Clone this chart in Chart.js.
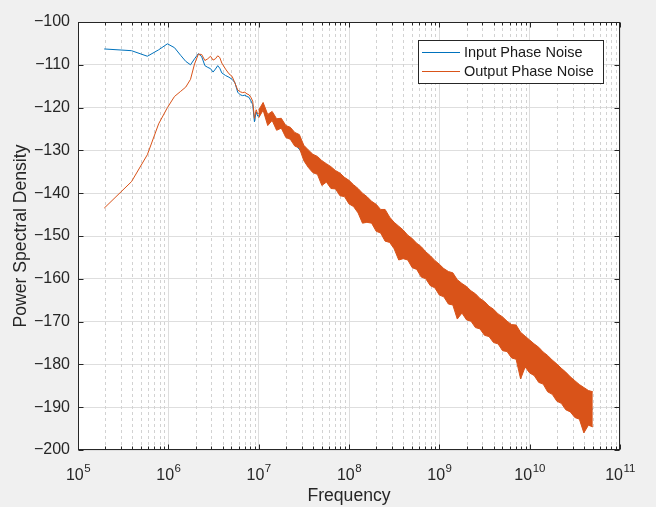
<!DOCTYPE html>
<html><head><meta charset="utf-8">
<script src="https://cdn.jsdelivr.net/npm/chart.js@4.4.0/dist/chart.umd.min.js"></script>
<style>html,body{margin:0;padding:0;background:#f0f0f0;}canvas{display:block}</style>
</head><body>
<canvas id="c" width="656" height="507"></canvas>
<script>
// ---- data ----
const seriesLabels = ['Input Phase Noise', 'Output Phase Noise'];

const inputFreq = [1.95e5,3.91e5,5.86e5,7.81e5,9.77e5,1.17e6,1.37e6,1.56e6,1.76e6,1.95e6,2.15e6,2.34e6,2.54e6,2.73e6,2.93e6,3.13e6,3.32e6,3.52e6,3.71e6,3.91e6,4.30e6,4.69e6,5.08e6,5.47e6,5.86e6,6.25e6,6.64e6,7.03e6,7.42e6,7.81e6,8.20e6,8.59e6,8.98e6,9.38e6,9.77e6,1.00e7,1.12e7,1.26e7,1.41e7,1.58e7,1.78e7,2.00e7,3.16e7,1.00e8,1.00e9,1.00e10,5.00e10];
const inputPsd = [-106.3,-106.7,-108.0,-106.5,-105.1,-106.0,-107.8,-109.2,-110.0,-108.6,-107.4,-108.1,-110.2,-110.6,-110.9,-111.7,-111.0,-110.2,-110.8,-111.9,-112.5,-112.9,-113.4,-114.2,-116.4,-117.0,-117.2,-117.1,-117.4,-117.6,-118.4,-119.3,-123.3,-121.0,-122.0,-122.0,-120.0,-123.5,-122.2,-124.6,-124.0,-126.0,-131.0,-140.0,-160.0,-178.0,-190.5];

const outputFreq = [1.95e5,3.91e5,5.86e5,7.81e5,9.77e5,1.17e6,1.37e6,1.56e6,1.76e6,1.95e6,2.15e6,2.34e6,2.54e6,2.73e6,2.93e6,3.13e6,3.32e6,3.52e6,3.71e6,3.91e6,4.30e6,4.69e6,5.08e6,5.47e6,5.86e6,6.25e6,6.64e6,7.03e6,7.42e6,7.81e6,8.20e6,8.59e6,8.98e6,9.38e6,9.77e6,1.00e7];
const outputPsd = [-143.5,-137.3,-131.0,-123.8,-120.0,-117.4,-116.2,-115.2,-113.4,-109.8,-107.5,-107.6,-109.0,-108.6,-108.0,-108.9,-108.6,-107.9,-108.3,-109.6,-111.0,-112.1,-112.7,-114.3,-115.9,-116.3,-116.5,-116.4,-116.8,-117.0,-117.6,-118.5,-122.5,-120.5,-121.5,-121.4];

// noisy high-frequency part of the output: upper and lower edge of the band
const bandFreq = [
 1.00e7,1.12e7,1.26e7,1.41e7,1.58e7,1.78e7,2.00e7,2.24e7,2.51e7,2.82e7,3.16e7,3.55e7,3.98e7,4.47e7,5.01e7,5.62e7,6.31e7,7.08e7,7.94e7,8.91e7,
 1.00e8,1.12e8,1.26e8,1.41e8,1.58e8,1.78e8,2.00e8,2.24e8,2.51e8,2.82e8,3.16e8,3.55e8,3.98e8,4.47e8,5.01e8,5.62e8,6.31e8,7.08e8,7.94e8,8.91e8,
 1.00e9,1.12e9,1.26e9,1.41e9,1.58e9,1.78e9,2.00e9,2.24e9,2.51e9,2.82e9,3.16e9,3.55e9,3.98e9,4.47e9,5.01e9,5.62e9,6.31e9,7.08e9,7.94e9,8.91e9,
 1.00e10,1.12e10,1.26e10,1.41e10,1.58e10,1.78e10,2.00e10,2.24e10,2.51e10,2.82e10,3.16e10,3.55e10,3.98e10,4.47e10,5.00e10];
const bandUpper = [
 -120.6,-118.8,-121.6,-120.9,-122.6,-122.5,-124.2,-124.6,-125.8,-126.3,-128.8,-129.9,-130.9,-131.4,-132.4,-133.1,-133.8,-134.7,-135.3,-136.3,
 -137.0,-138.0,-138.9,-140.0,-140.8,-141.9,-142.6,-143.8,-143.8,-145.6,-146.8,-147.7,-148.6,-149.8,-150.6,-151.7,-152.5,-153.7,-154.6,-155.7,
 -156.6,-157.6,-158.3,-158.6,-160.2,-161.1,-161.8,-162.8,-163.5,-164.6,-165.3,-166.4,-167.1,-168.2,-168.9,-169.9,-170.7,-170.8,-172.5,-173.4,
 -174.3,-175.2,-176.0,-177.1,-177.9,-179.0,-179.9,-180.9,-181.8,-182.9,-183.8,-184.7,-185.4,-186.1,-186.4];
const bandLower = [
 -122.4,-120.6,-124.2,-123.0,-125.3,-124.8,-127.0,-127.4,-129.0,-129.4,-132.4,-134.0,-135.2,-135.6,-138.2,-137.4,-138.9,-139.0,-140.6,-140.8,
 -142.5,-143.1,-144.6,-147.0,-146.8,-147.0,-148.9,-149.3,-151.2,-151.5,-153.0,-155.6,-155.3,-155.6,-157.4,-157.8,-159.6,-160.0,-161.6,-162.1,
 -163.8,-164.2,-165.9,-166.1,-169.4,-168.0,-169.6,-169.9,-171.4,-171.7,-173.2,-173.5,-174.9,-175.2,-176.8,-177.0,-178.5,-178.8,-183.4,-180.6,
 -182.0,-182.6,-184.2,-184.6,-186.4,-187.0,-188.6,-189.1,-190.6,-191.1,-192.4,-192.8,-196.0,-194.2,-194.6];

const xMajorTicks = [1e5,1e6,1e7,1e8,1e9,1e10,1e11];
const yMin = -200, yMax = -100, yStep = 10;

// ---- styling ----
const BLUE = '#0072BD', ORANGE = '#D95319', AXIS = '#262626';
const FONT = "'Liberation Sans', Arial, Helvetica, sans-serif";
Chart.defaults.font.family = FONT;
Chart.defaults.color = AXIS;

const pts = (xs, ys) => xs.map((x, i) => ({x, y: ys[i]}));
const minorTicks = [];
for (let i = 0; i < xMajorTicks.length - 1; i++) for (let m = 2; m <= 9; m++) minorTicks.push(m * xMajorTicks[i]);

const matlabAxes = {
  id: 'matlabAxes',
  beforeDraw(chart) {
    const {ctx, chartArea: a} = chart;
    ctx.save();
    ctx.fillStyle = '#ffffff';
    ctx.fillRect(a.left, a.top, a.right - a.left, a.bottom - a.top);
    ctx.restore();
  },
  beforeDatasetsDraw(chart) {
    const {ctx, chartArea: a, scales: {x}} = chart;
    ctx.save();
    ctx.strokeStyle = '#d2d2d2'; ctx.lineWidth = 1; ctx.setLineDash([3, 3]);
    minorTicks.forEach(v => {
      const px = Math.round(x.getPixelForValue(v)) + 0.5;
      ctx.beginPath(); ctx.moveTo(px, a.top); ctx.lineTo(px, a.bottom); ctx.stroke();
    });
    ctx.restore();
  },
  afterDatasetsDraw(chart) {
    const {ctx, chartArea: a, scales: {x, y}} = chart;
    const L = Math.round(a.left) + 0.5, R = Math.round(a.right) - 0.5, T = Math.round(a.top) + 0.5, B = Math.round(a.bottom) - 0.5;
    ctx.save();
    ctx.strokeStyle = AXIS; ctx.lineWidth = 1; ctx.setLineDash([]);
    ctx.strokeRect(L, T, R - L, B - T);
    ctx.beginPath();
    xMajorTicks.forEach(v => { const px = Math.round(x.getPixelForValue(v)) + 0.5; ctx.moveTo(px, B); ctx.lineTo(px, B - 5); ctx.moveTo(px, T); ctx.lineTo(px, T + 5); });
    minorTicks.forEach(v => { const px = Math.round(x.getPixelForValue(v)) + 0.5; ctx.moveTo(px, B); ctx.lineTo(px, B - 3); ctx.moveTo(px, T); ctx.lineTo(px, T + 3); });
    for (let v = yMin; v <= yMax; v += yStep) { const py = Math.round(y.getPixelForValue(v)) + 0.5; ctx.moveTo(L, py); ctx.lineTo(L + 5, py); ctx.moveTo(R, py); ctx.lineTo(R - 5, py); }
    ctx.stroke();
    // x tick labels 10^n
    ctx.fillStyle = AXIS; ctx.textBaseline = 'alphabetic'; ctx.textAlign = 'left';
    xMajorTicks.forEach(v => {
      const px = x.getPixelForValue(v);
      const e = String(Math.round(Math.log10(v)));
      ctx.font = '16px ' + FONT; const wb = ctx.measureText('10').width;
      ctx.font = '11.5px ' + FONT; const we = ctx.measureText(e).width;
      const x0 = px - (wb + we) / 2;
      ctx.font = '16px ' + FONT; ctx.fillText('10', x0, 479.5);
      ctx.font = '11.5px ' + FONT; ctx.fillText(e, x0 + wb + 0.5, 471.5);
    });
    // legend
    const lx = 418.5, ly = 40.5, lw = 185, lh = 43;
    ctx.fillStyle = '#ffffff'; ctx.fillRect(lx, ly, lw, lh);
    ctx.strokeStyle = AXIS; ctx.strokeRect(lx, ly, lw, lh);
    ctx.font = '14.5px ' + FONT; ctx.textBaseline = 'middle';
    [0, 1].forEach((d, i) => {
      const ds = chart.data.datasets[d];
      const yy = 52 + i * 19;
      ctx.strokeStyle = ds.borderColor; ctx.beginPath(); ctx.moveTo(422, yy + 0.5); ctx.lineTo(460, yy + 0.5); ctx.stroke();
      ctx.fillStyle = '#1a1a1a'; ctx.fillText(ds.label, 464, yy + 0.5);
    });
    ctx.restore();
  }
};

new Chart(document.getElementById('c'), {
  type: 'line',
  data: {
    datasets: [
      {label: seriesLabels[0], data: pts(inputFreq, inputPsd), borderColor: BLUE, borderWidth: 1, pointRadius: 0, fill: false, order: 3, tension: 0},
      {label: seriesLabels[1], data: pts(outputFreq, outputPsd), borderColor: ORANGE, borderWidth: 1, pointRadius: 0, fill: false, order: 1, tension: 0},
      {label: '', data: pts(bandFreq, bandUpper), borderColor: ORANGE, borderWidth: 1, pointRadius: 0, fill: false, order: 2, tension: 0},
      {label: '', data: pts(bandFreq, bandLower), borderColor: ORANGE, backgroundColor: ORANGE, borderWidth: 1, pointRadius: 0, fill: 2, order: 2, tension: 0}
    ]
  },
  options: {
    responsive: false, animation: false, events: [],
    layout: {padding: {top: 22, right: 36, bottom: 0, left: 0}},
    plugins: {legend: {display: false}, tooltip: {enabled: false}, filler: {propagate: false}},
    scales: {
      x: {
        type: 'logarithmic', min: 1e5, max: 1e11,
        afterBuildTicks: s => { s.ticks = xMajorTicks.map(v => ({value: v})); },
        ticks: {display: false},
        grid: {color: '#dedede', drawTicks: false},
        border: {display: false},
        title: {display: true, text: 'Frequency', color: AXIS, font: {size: 17.6}, padding: {top: 0, bottom: 0}},
        afterFit: s => { s.height = 57; }
      },
      y: {
        type: 'linear', min: yMin, max: yMax,
        ticks: {stepSize: yStep, padding: 8, color: AXIS, font: {size: 16},
          callback: v => (v < 0 ? '\u2212' + Math.abs(v) : String(v))},
        grid: {color: '#dedede', drawTicks: false},
        border: {display: false},
        title: {display: true, text: 'Power Spectral Density', color: AXIS, font: {size: 17.6}, padding: {top: 11, bottom: 0}},
        afterFit: s => { s.width = 78; }
      }
    }
  },
  plugins: [matlabAxes]
});
</script>
</body></html>
